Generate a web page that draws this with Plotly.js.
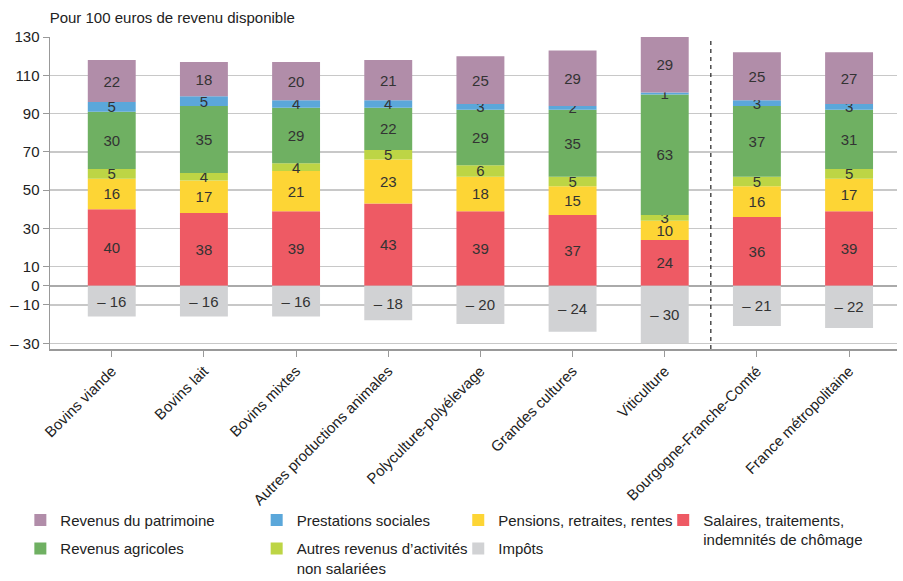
<!DOCTYPE html>
<html><head><meta charset="utf-8">
<script src="https://cdn.plot.ly/plotly-3.0.1.min.js"></script>
<style>body{margin:0;background:#fff}</style>
</head><body><div id="chart" style="width:903px;height:581px"></div>
<script>
const categories = ["Bovins viande","Bovins lait","Bovins mixtes","Autres productions animales","Polyculture-polyélevage","Grandes cultures","Viticulture","Bourgogne-Franche-Comté","France métropolitaine"];
const salaires    = [40,38,39,43,39,37,24,36,39];
const pensions    = [16,17,21,23,18,15,10,16,17];
const autres      = [5,4,4,5,6,5,3,5,5];
const agricoles   = [30,35,29,22,29,35,63,37,31];
const prestations = [5,5,4,4,3,2,1,3,3];
const patrimoine  = [22,18,20,21,25,29,29,25,27];
const impots      = [-16,-16,-16,-18,-20,-24,-30,-21,-22];
const yTickVals   = [-30,-10,0,10,30,50,70,90,110,130];
const yTickText   = ["– 30","– 10","0","10","30","50","70","90","110","130"];

const FONT = "'Liberation Sans Narrow', 'Liberation Sans', Arial, sans-serif";
const fmt = v => v < 0 ? "– " + Math.abs(v) : String(v);

function tr(name, vals, color, legend, rank) {
  return {
    type: "bar", x: categories, y: vals, name: name,
    marker: {color: color, line: {width: 0}},
    text: vals.map(fmt), textposition: "inside", insidetextanchor: "middle",
    textangle: 0, constraintext: "none",
    textfont: {family: FONT, size: 15, color: "#333"},
    hoverinfo: "none", legend: legend, legendrank: rank, legendgroup: name
  };
}
const data = [
  tr("Salaires, traitements,<br>indemnités de chômage", salaires, "#EE5A64", "legend4", 1),
  tr("Pensions, retraites, rentes", pensions, "#FDD535", "legend3", 1),
  tr("Autres revenus d’activités<br>non salariées", autres, "#BDD545", "legend2", 2),
  tr("Revenus agricoles", agricoles, "#6FB062", "legend", 2),
  tr("Prestations sociales", prestations, "#5BA7DA", "legend2", 1),
  tr("Revenus du patrimoine", patrimoine, "#B18DA9", "legend", 1),
  tr("Impôts", impots, "#D1D2D4", "legend3", 2)
];

function leg(x) {
  return {x: x, xanchor: "left", y: -0.496, yanchor: "top", orientation: "v",
    font: {family: FONT, size: 15, color: "#222"}, valign: "top",
    tracegroupgap: 6, bgcolor: "rgba(0,0,0,0)", traceorder: "grouped"};
}

const layout = {
  width: 903, height: 581,
  margin: {l: 50, r: 6, t: 37, b: 232, autoexpand: false},
  paper_bgcolor: "#fff", plot_bgcolor: "#fff",
  barmode: "relative", bargap: 0.48,
  font: {family: FONT, size: 15, color: "#222"},
  title: {text: "Pour 100 euros de revenu disponible", x: 0.055, xref: "container", xanchor: "left",
          y: 0.97, yref: "container", yanchor: "middle", font: {family: FONT, size: 15, color: "#222"}},
  xaxis: {type: "category", range: [-0.67, 8.52], tickangle: -45, ticks: "outside", ticklen: 6,
          tickcolor: "#999", showline: true, linecolor: "#999", linewidth: 1.5, showgrid: false,
          tickfont: {family: FONT, size: 15, color: "#222"}},
  yaxis: {range: [-33, 130], tickvals: yTickVals, ticktext: yTickText, ticks: "outside", ticklen: 6,
          tickcolor: "#999", showline: true, linecolor: "#999", linewidth: 1.5, showgrid: true,
          gridcolor: "#c8c8c8", gridwidth: 1.5, zeroline: true, zerolinecolor: "#aaa", zerolinewidth: 1.5,
          tickfont: {family: FONT, size: 15, color: "#222"}},
  shapes: [{type: "line", xref: "x", yref: "paper", x0: 6.5, x1: 6.5, y0: 0, y1: 1,
            line: {color: "#222", width: 1.2, dash: "4px,4px"}}],
  uniformtext: {mode: "show", minsize: 15},
  showlegend: true,
  legend: leg(-0.035),
  legend2: leg(0.244),
  legend3: leg(0.482),
  legend4: leg(0.724)
};
Plotly.newPlot("chart", data, layout, {displayModeBar: false, staticPlot: true});
</script></body></html>
